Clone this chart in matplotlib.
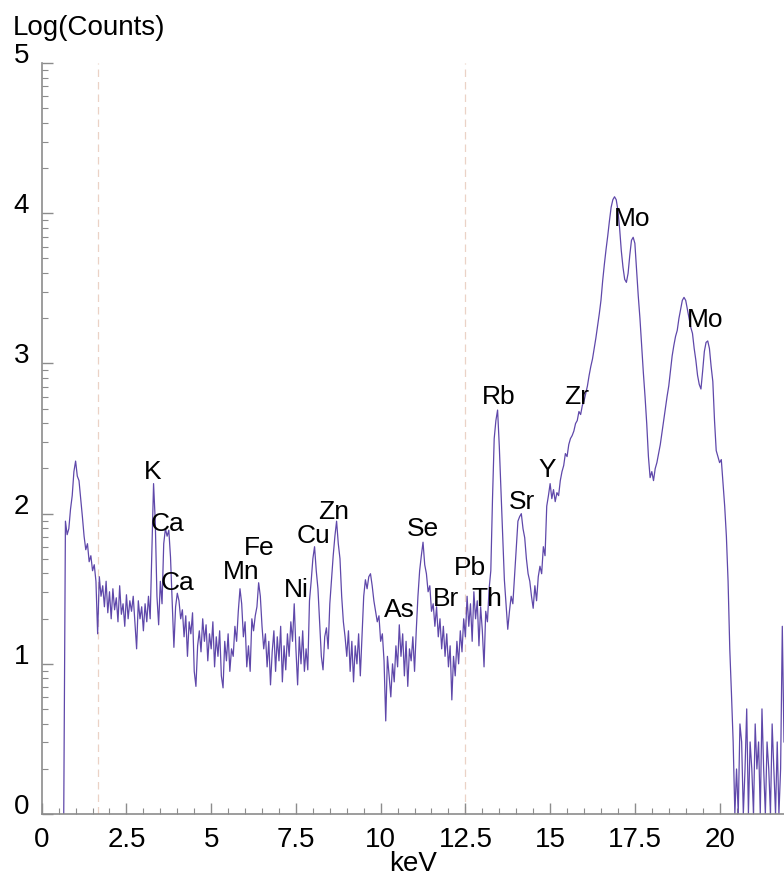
import numpy as np
import matplotlib.pyplot as plt
from matplotlib.ticker import MultipleLocator, FixedLocator

plt.rcParams['font.family'] = ['Liberation Sans', 'DejaVu Sans']

# spectrum channels: first channel energy and channel width (keV)
kev_start = 0.65
kev_step = 0.05

# log10(counts) per channel, one row per keV
log_counts = [
    0.00, 1.95, 1.86, 1.90, 2.03, 2.12, 2.28, 2.35, 2.25, 2.22, 2.10, 1.98, 1.85, 1.76, 1.80, 1.68, 1.72, 1.62, 1.66, 1.55,
    1.20, 1.58, 1.45, 1.52, 1.38, 1.55, 1.34, 1.48, 1.30, 1.50, 1.36, 1.44, 1.28, 1.52, 1.33, 1.40, 1.25, 1.46, 1.30, 1.42,
    1.35, 1.45, 1.28, 1.10, 1.42, 1.30, 1.38, 1.22, 1.40, 1.28, 1.45, 1.30, 1.75, 2.20, 1.95, 1.45, 1.26, 1.55, 1.40, 1.80,
    1.90, 1.85, 1.89, 1.71, 1.40, 1.11, 1.38, 1.47, 1.42, 1.30, 1.36, 1.18, 1.32, 1.05, 1.28, 1.20, 1.34, 0.95, 0.85, 1.12,
    1.22, 1.08, 1.30, 1.15, 1.26, 1.02, 1.20, 1.10, 1.28, 0.98, 1.18, 1.05, 1.22, 0.92, 0.84, 1.15, 1.02, 1.20, 0.95, 1.10,
    1.05, 1.25, 1.15, 1.35, 1.50, 1.40, 1.18, 1.28, 0.98, 1.12, 0.95, 1.30, 1.22, 1.32, 1.38, 1.54, 1.45, 1.25, 1.10, 1.20,
    0.98, 1.15, 0.86, 1.08, 1.22, 0.95, 1.18, 1.02, 1.25, 0.88, 1.12, 0.96, 1.20, 1.05, 1.28, 1.15, 1.40, 1.10, 0.86, 1.18,
    1.00, 1.22, 0.95, 1.10, 0.96, 1.42, 1.55, 1.70, 1.78, 1.62, 1.50, 1.28, 1.05, 0.96, 1.18, 1.24, 1.10, 1.40, 1.56, 1.72,
    1.85, 1.95, 1.80, 1.70, 1.45, 1.28, 1.18, 1.05, 1.22, 0.95, 1.15, 0.88, 1.12, 1.00, 1.20, 0.92, 1.18, 1.45, 1.56, 1.50,
    1.58, 1.60, 1.52, 1.42, 1.35, 1.28, 1.32, 1.15, 1.20, 1.02, 0.62, 1.05, 0.92, 0.78, 1.00, 0.88, 1.12, 0.98, 1.26, 1.05,
    1.20, 0.92, 1.15, 0.85, 1.10, 1.02, 1.18, 0.95, 1.22, 1.45, 1.62, 1.72, 1.81, 1.66, 1.60, 1.48, 1.52, 1.35, 1.40, 1.25,
    1.38, 1.18, 1.30, 1.10, 1.25, 1.05, 1.20, 0.98, 1.12, 0.76, 1.05, 0.92, 1.15, 1.00, 1.22, 1.08, 1.30, 1.18, 1.45, 1.25,
    1.40, 1.15, 1.48, 1.30, 1.42, 1.12, 1.38, 1.22, 0.98, 1.35, 1.28, 1.50, 1.62, 2.10, 2.50, 2.62, 2.69, 2.45, 2.15, 1.85,
    1.56, 1.40, 1.23, 1.35, 1.45, 1.40, 1.58, 1.75, 1.95, 1.98, 2.00, 1.90, 1.84, 1.70, 1.60, 1.55, 1.45, 1.37, 1.52, 1.42,
    1.58, 1.65, 1.60, 1.78, 1.72, 2.05, 2.12, 2.20, 2.10, 2.16, 2.08, 2.14, 2.12, 2.22, 2.28, 2.32, 2.40, 2.38, 2.46, 2.50,
    2.52, 2.55, 2.60, 2.62, 2.68, 2.66, 2.72, 2.75, 2.80, 2.85, 2.92, 2.98, 3.03, 3.10, 3.17, 3.25, 3.33, 3.42, 3.55, 3.66,
    3.76, 3.85, 3.95, 4.04, 4.09, 4.11, 4.09, 4.02, 3.90, 3.75, 3.64, 3.56, 3.54, 3.60, 3.72, 3.82, 3.84, 3.80, 3.62, 3.45,
    3.30, 3.12, 2.94, 2.78, 2.60, 2.38, 2.24, 2.28, 2.22, 2.30, 2.34, 2.40, 2.46, 2.54, 2.62, 2.70, 2.78, 2.85, 2.95, 3.05,
    3.12, 3.18, 3.22, 3.30, 3.36, 3.42, 3.44, 3.42, 3.36, 3.30, 3.24, 3.20, 3.10, 3.02, 2.92, 2.86, 2.83, 2.95, 3.08, 3.14,
    3.15, 3.10, 2.98, 2.88, 2.62, 2.42, 2.38, 2.34, 2.36, 2.20, 2.05, 1.85, 1.55, 1.10, 0.80, 0.48, 0.00, 0.30, 0.00, 0.60,
    0.48, 0.00, 0.30, 0.70, 0.00, 0.48, 0.30, 0.00, 0.60, 0.30, 0.48, 0.00, 0.70, 0.30, 0.00, 0.48, 0.30, 0.00, 0.60, 0.30,
    0.00, 0.48, 0.00, 0.30, 1.25, 0.48,
]

# element labels
elements = ['K', 'Ca', 'Ca', 'Mn', 'Fe', 'Ni', 'Cu', 'Zn', 'As', 'Se', 'Br', 'Pb', 'Th',
            'Rb', 'Sr', 'Y', 'Zr', 'Mo', 'Mo']
label_kev = [3.26, 3.70, 4.02, 5.88, 6.41, 7.50, 8.03, 8.62, 10.54, 11.25, 11.93, 12.63, 13.14,
             13.49, 14.17, 14.90, 15.79, 17.41, 19.57]
label_log = [2.28, 1.93, 1.54, 1.61, 1.77, 1.49, 1.85, 2.01, 1.36, 1.90, 1.43, 1.64, 1.43,
             2.78, 2.08, 2.29, 2.78, 3.96, 3.29]

# region-of-interest markers
roi_kev = [1.65, 12.5]

energy = np.round(kev_start + kev_step * np.arange(len(log_counts)), 3)

fig = plt.figure(figsize=(7.84, 8.81), dpi=100)
ax = fig.add_axes([0.0532, 0.076, 0.9468, 0.8524])

for x in roi_kev:
    ax.axvline(x, color='#ebd2c6', lw=0.9, ls=(0, (6, 4)), zorder=1)

ax.plot(energy, log_counts, color='#5f48aa', lw=0.9, zorder=2)

for name, x, y in zip(elements, label_kev, label_log):
    ax.text(x, y, name, ha='center', va='center', fontsize=19, color='black', zorder=3)

ax.set_xlim(0, 21.9)
ax.set_ylim(0, 5)

for side in ['top', 'right']:
    ax.spines[side].set_visible(False)
for side in ['left', 'bottom']:
    ax.spines[side].set_color('#8c8c8c')
    ax.spines[side].set_linewidth(1.2)

ax.xaxis.set_major_locator(MultipleLocator(2.5))
ax.xaxis.set_minor_locator(MultipleLocator(0.5))
ax.yaxis.set_major_locator(FixedLocator([0, 1, 2, 3, 4, 5]))
minor_y = [n + np.log10(k) for n in range(5) for k in range(2, 10)]
ax.yaxis.set_minor_locator(FixedLocator(minor_y))

ax.tick_params(which='both', direction='in', colors='#8c8c8c', labelcolor='black', labelsize=20)
ax.tick_params(which='major', length=8, width=1)
ax.tick_params(which='minor', length=4, width=0.8)
ax.tick_params(axis='x', pad=9)
ax.tick_params(axis='y', pad=9)

ax.xaxis.set_major_formatter(plt.FuncFormatter(lambda v, p: f'{v:g}'))
for lab in ax.get_yticklabels():
    lab.set_va('baseline')

ax.set_xlabel('keV', fontsize=20, va='center')
ax.xaxis.set_label_coords(0.5, -0.066)
fig.text(13 / 784, 1 - 35 / 881, 'Log(Counts)', fontsize=20, va='baseline', ha='left')

fig.savefig('out.png', dpi=100)
